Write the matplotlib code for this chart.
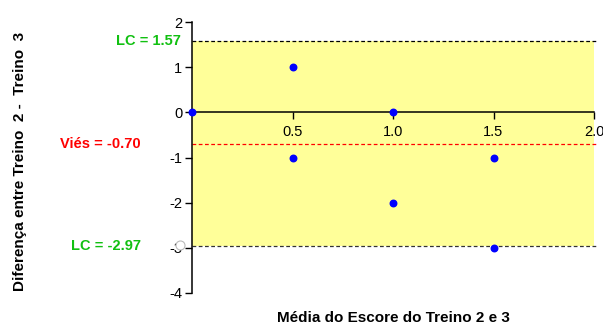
import matplotlib
matplotlib.use("Agg")
import matplotlib.pyplot as plt
from matplotlib.transforms import offset_copy

plt.rcParams['font.family'] = ['Liberation Sans', 'DejaVu Sans']

# Bland-Altman data: mean of the two sessions vs. their difference
media = [0.0, 0.5, 0.5, 1.0, 1.0, 1.5, 1.5]
diferenca = [0, 1, -1, 0, -2, -1, -3]

vies = -0.70
lc_sup = 1.57
lc_inf = -2.97

x_ticks = [0.5, 1.0, 1.5, 2.0]
x_tick_labels = ["0.5", "1.0", "1.5", "2.0"]
y_ticks = [2, 1, 0, -1, -2, -3, -4]
y_tick_labels = ["2", "1", "0", "-1", "-2", "-3", "-4"]

verde = '#11C011'

fig = plt.figure(figsize=(6.03, 3.25), dpi=100)
ax = fig.add_axes([192/603, 1 - 293/325, (594 - 192)/603, (293 - 22)/325])

ax.set_xlim(0, 2.0)
ax.set_ylim(-4, 2)

# agreement band
ax.axhspan(lc_inf, lc_sup, xmin=0, xmax=1, facecolor='#FFFF99', edgecolor='none', zorder=0)

# limit and bias lines
ax.plot([0, 2.01], [lc_sup, lc_sup], ls=(0, (3, 2)), color='black', lw=0.9, clip_on=False, zorder=2)
ax.plot([0, 2.01], [lc_inf, lc_inf], ls=(0, (3, 2)), color='#333333', lw=0.9, clip_on=False, zorder=2)
ax.plot([0, 2.01], [vies, vies], ls=(0, (3, 2)), color='red', lw=0.9, clip_on=False, zorder=2)

ax.scatter(media, diferenca, s=22, color='blue', zorder=5, clip_on=False)

# spines: y axis at left, x axis through zero
for s in ['top', 'right']:
    ax.spines[s].set_visible(False)
ax.spines['bottom'].set_position(('data', 0))
ax.spines['left'].set_linewidth(1.1)
ax.spines['bottom'].set_linewidth(1.1)

ax.set_xticks(x_ticks)
ax.set_xticklabels(x_tick_labels)
ax.set_yticks(y_ticks)
ax.set_yticklabels(y_tick_labels)
ax.tick_params(axis='both', direction='out', length=5, width=1.0, labelsize=10.5, pad=2)
ax.tick_params(axis='x', pad=4)

# small hollow circle sitting over the lower limit tick label
circ_tr = offset_copy(ax.transData, fig=fig, x=-8.5, y=0.8, units='points')
ax.plot([0], [lc_inf], marker='o', ms=6.5, mfc='white', mec='#BBBBBB', mew=0.8,
        transform=circ_tr, clip_on=False, zorder=6)

# text labels for the reference lines
ax.annotate(f"LC = {lc_sup:.2f}", xy=(0, lc_sup), xytext=(-8, 0), textcoords='offset points',
            ha='right', va='center', color=verde, fontsize=10.5, fontweight='bold',
            annotation_clip=False)
ax.annotate(f"Viés = {vies:.2f}", xy=(0, vies), xytext=(-37, 0), textcoords='offset points',
            ha='right', va='center', color='red', fontsize=10.5, fontweight='bold',
            annotation_clip=False)
ax.annotate(f"LC = {lc_inf:.2f}", xy=(0, lc_inf), xytext=(-37, 0), textcoords='offset points',
            ha='right', va='center', color=verde, fontsize=10.5, fontweight='bold',
            annotation_clip=False)

fig.text(393/603, 1 - 318/325, "Média do Escore do Treino 2 e 3", ha='center', va='center',
         fontsize=11, fontweight='bold')
fig.text(20/603, 1 - 161/325, "Diferença entre Treino  2 -  Treino  3", ha='center', va='center',
         rotation=90, fontsize=11, fontweight='bold')

fig.savefig("out.png", dpi=100)
